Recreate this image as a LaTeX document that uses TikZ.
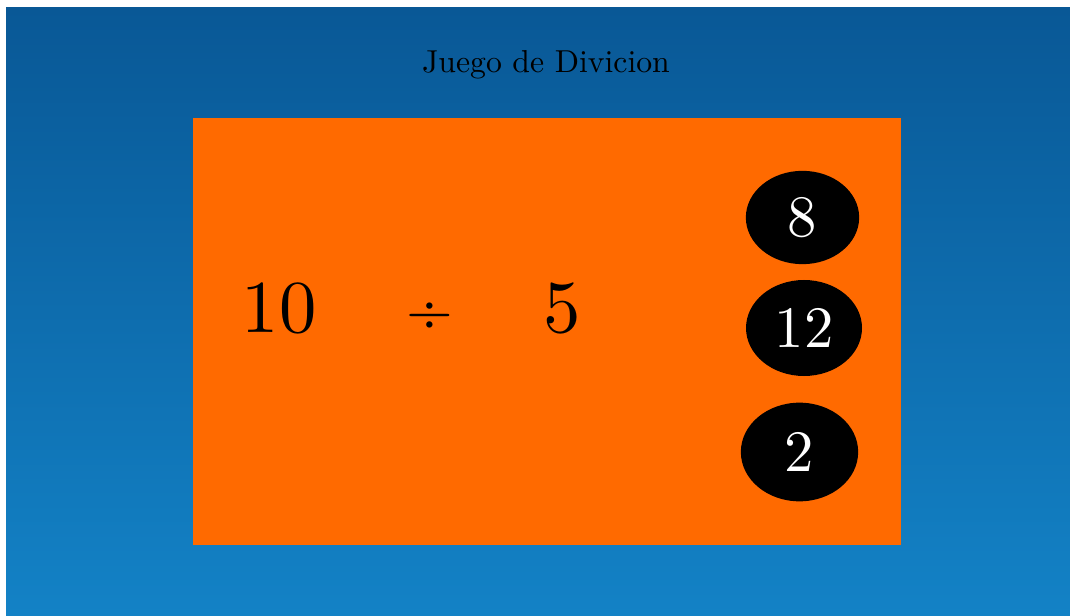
\documentclass[tikz,border=0pt]{standalone}
\usepackage{fontspec}
\newfontfamily\lmten{lmroman10-regular.otf}
\usetikzlibrary{shapes.geometric}
\definecolor{bgtop}{RGB}{9,88,150}
\definecolor{bgbot}{RGB}{19,130,198}
\definecolor{board}{RGB}{255,106,0}
\tikzset{
  px/.style={x=0.75pt,y=-0.75pt},
  bignum/.style={anchor=base,inner sep=0pt,font=\lmten\fontsize{56}{60}\selectfont},
  answer/.style={ellipse,fill=black,text=white,inner sep=0pt,font=\lmten\fontsize{44}{48}\selectfont}
}
\begin{document}
\begin{tikzpicture}[px]
\useasboundingbox (0,0) rectangle (1070,616);
\fill[white] (0,0) rectangle (1070,616);
\shade[top color=bgtop,bottom color=bgbot] (6,8) rectangle (1070,616);
\fill[board] (193,118) rectangle (901,545);
\node[anchor=base,inner sep=0pt,font=\lmten\fontsize{23.8}{28}\selectfont] (title) at (546,73) {Juego de Divicion};
\node[bignum] (a) at (279,333) {10};
\node[bignum,font=\lmten\fontsize{45}{50}\selectfont] (op) at (430,330) {÷};
\node[bignum] (b) at (562,333) {5};
\node[answer,minimum width=85pt,minimum height=70pt] (o1) at (802.5,217.5) {8};
\node[answer,minimum width=87pt,minimum height=72pt] (o2) at (804,328) {12};
\node[answer,minimum width=88pt,minimum height=74pt] (o3) at (799.5,452) {2};
\end{tikzpicture}
\end{document}
